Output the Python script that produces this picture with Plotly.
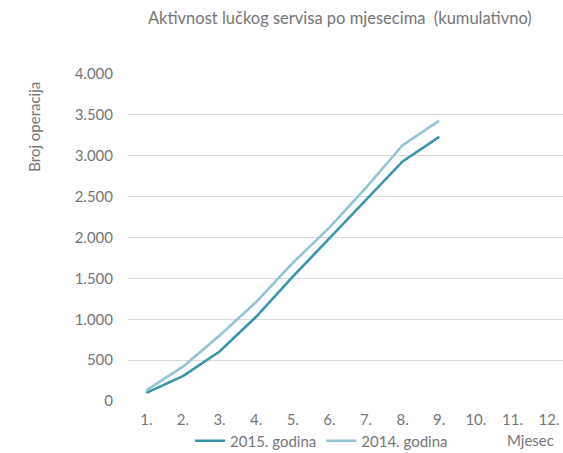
import plotly.graph_objects as go

months = [1, 2, 3, 4, 5, 6, 7, 8, 9, 10, 11, 12]
month_labels = ["1.", "2.", "3.", "4.", "5.", "6.", "7.", "8.", "9.", "10.", "11.", "12."]
months_2015 = [1, 2, 3, 4, 5, 6, 7, 8, 9]
values_2015 = [100, 305, 605, 1030, 1520, 1990, 2460, 2930, 3230]
months_2014 = [1, 2, 3, 4, 5, 6, 7, 8, 9]
values_2014 = [130, 420, 800, 1210, 1690, 2120, 2610, 3130, 3430]
y_ticks = [0, 500, 1000, 1500, 2000, 2500, 3000, 3500, 4000]

FONT = "Lato"
GRAY = "#767676"

fig = go.Figure()
fig.add_trace(go.Scatter(x=months_2015, y=values_2015, mode="lines", name="2015. godina",
                         line=dict(color="#3a95aa", width=2.6)))
fig.add_trace(go.Scatter(x=months_2014, y=values_2014, mode="lines", name="2014. godina",
                         line=dict(color="#92c5d3", width=2.6)))

fig.update_layout(
    width=563, height=453,
    margin=dict(l=128, r=0, t=74, b=52, autoexpand=False),
    paper_bgcolor="white", plot_bgcolor="white",
    separators=",.",
    font=dict(family=FONT, size=15, color=GRAY),
    title=dict(text="Aktivnost lučkog servisa po mjesecima  (kumulativno)",
               x=0.487, xref="paper", xanchor="center", y=0.96, yanchor="middle",
               font=dict(family=FONT, size=16.5, color=GRAY)),
    showlegend=True,
    legend=dict(orientation="h", x=0.445, xanchor="center", yref="container", y=1 - 441 / 453,
                yanchor="middle",
                font=dict(family=FONT, size=15, color=GRAY), itemwidth=30,
                bgcolor="rgba(0,0,0,0)"),
    xaxis=dict(range=[0.5, 12.38], tickmode="array", tickvals=months, ticktext=month_labels,
               showgrid=False, zeroline=False, showline=False, ticks="",
               ticklabelstandoff=8, tickfont=dict(family=FONT, size=15, color=GRAY)),
    yaxis=dict(range=[0, 4000], tickmode="array", tickvals=y_ticks, tickformat=",d",
               showgrid=True, gridcolor="#d9d9d9", gridwidth=1, zeroline=False,
               showline=False, ticks="", ticklabelstandoff=14,
               tickfont=dict(family=FONT, size=15, color=GRAY)),
    annotations=[
        dict(text="Broj operacija", xref="paper", yref="paper", x=-0.215, y=0.84,
             xanchor="center", yanchor="middle", textangle=-90, showarrow=False,
             font=dict(family=FONT, size=15, color=GRAY)),
        dict(text="Mjesec", xref="paper", yref="paper", x=0.926, y=-0.12,
             xanchor="center", yanchor="middle", showarrow=False,
             font=dict(family=FONT, size=15, color=GRAY)),
    ],
)

fig.write_html("out.html", config={"displayModeBar": False},
               post_script="document.body.style.margin='0';document.body.style.overflow='hidden';")
